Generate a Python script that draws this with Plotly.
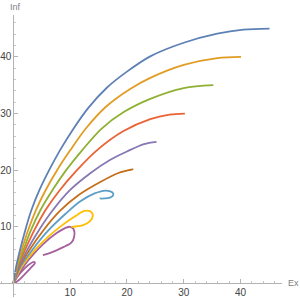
import plotly.graph_objects as go

# Curves (x = Ex, y = Inf)
blue_x = [0, 0.5, 1.2, 2.1, 3.2, 4.6, 6.3, 8.2, 10.5, 13.2, 16.5, 20.0, 24.1, 30.0, 35.9, 40.5, 45.1]
blue_y = [0, 3.0, 6.0, 9.4, 13.0, 16.5, 20.0, 23.5, 27.2, 31.0, 34.6, 37.4, 40.1, 42.5, 44.1, 44.8, 45.0]

orange_x = [0, 0.6, 1.5, 2.6, 4.0, 5.7, 7.7, 10.0, 12.8, 16.3, 20.5, 24.1, 30.0, 35.9, 40.1]
orange_y = [0, 3.0, 6.0, 9.4, 13.0, 16.5, 20.0, 23.5, 27.4, 31.2, 34.3, 36.3, 38.6, 39.8, 40.0]

green_x = [0, 0.7, 1.8, 3.1, 4.8, 6.9, 9.3, 12.1, 15.5, 19.5, 24.1, 30.0, 35.2]
green_y = [0, 3.0, 6.0, 9.4, 13.0, 16.5, 20.0, 23.5, 27.3, 30.3, 32.6, 34.5, 35.0]

red_x = [0, 0.8, 2.1, 3.7, 5.7, 8.2, 11.2, 14.7, 19.4, 24.1, 27.5, 30.2]
red_y = [0, 3.0, 6.0, 9.4, 13.0, 16.5, 20.0, 23.5, 26.9, 29.0, 29.8, 30.0]

purple_x = [0, 1.0, 2.5, 4.5, 7.0, 10.0, 13.6, 17.0, 20.0, 23.0, 25.2]
purple_y = [0, 3.0, 6.0, 9.4, 13.0, 16.5, 19.5, 21.8, 23.3, 24.6, 25.0]

brown_x = [0, 1.1, 2.9, 5.3, 8.2, 11.5, 15.3, 18.5, 21.0, 20.4]
brown_y = [0, 3.0, 6.0, 9.4, 12.8, 15.6, 17.9, 19.5, 20.15, 20.0]

lightblue_x = [0, 1.3, 3.4, 6.2, 9.2, 11.8, 14.3, 16.3, 17.4, 17.6, 17.0, 16.0, 15.2]
lightblue_y = [0, 3.0, 6.0, 9.4, 12.3, 14.5, 15.9, 16.4, 16.1, 15.6, 15.15, 15.0, 15.0]

yellow_x = [0, 1.5, 3.9, 6.2, 8.5, 10.8, 12.5, 13.6, 14.0, 13.5, 12.3, 11.0, 10.2]
yellow_y = [0, 3.0, 6.0, 8.3, 10.2, 11.8, 12.8, 12.7, 12.0, 11.0, 10.3, 10.05, 10.0]

magenta_x = [0, 1.8, 3.4, 5.2, 7.5, 9.2, 10.0, 10.6, 10.7, 10.2, 8.8, 7.5, 6.5, 5.2]
magenta_y = [0, 3.0, 5.0, 6.9, 8.8, 9.8, 10.0, 9.6, 8.2, 7.2, 6.4, 5.8, 5.4, 5.0]

small_x = [0, 1.2, 2.6, 3.6, 3.8, 3.3, 2.2, 1.0, 0]
small_y = [0, 1.8, 3.2, 3.8, 3.6, 3.0, 1.8, 0.6, 0]

series = [
    (small_x, small_y, "#A5609D"),
    (magenta_x, magenta_y, "#A5609D"),
    (yellow_x, yellow_y, "#FFBF00"),
    (lightblue_x, lightblue_y, "#5D9EC7"),
    (brown_x, brown_y, "#C56E1A"),
    (purple_x, purple_y, "#8778B3"),
    (red_x, red_y, "#EB6235"),
    (green_x, green_y, "#8FB032"),
    (orange_x, orange_y, "#E19C24"),
    (blue_x, blue_y, "#5E81B5"),
]

tick_vals = [10, 20, 30, 40]
tick_text = ["10", "20", "30", "40"]

fig = go.Figure()
for xs, ys, c in series:
    fig.add_trace(go.Scatter(x=xs, y=ys, mode="lines",
                             line=dict(color=c, width=1.8, shape="spline", smoothing=0.9),
                             hoverinfo="skip", showlegend=False))

xr = [-2.35, 47.3]
yr = [-2.4, 47.4]
axis_common = dict(showgrid=False, zeroline=False, showline=True, linecolor="#b3b3b3",
                   linewidth=1, ticks="inside", ticklen=4, tickcolor="#b3b3b3",
                   tickvals=tick_vals, ticktext=tick_text, automargin=False,
                   tickfont=dict(family="Liberation Sans", size=10, color="#444444"),
                   minor=dict(ticks="inside", ticklen=2, tickcolor="#c8c8c8", dtick=2, tick0=0),
                   anchor="free", fixedrange=True)

fig.update_layout(
    width=300, height=299,
    margin=dict(l=0, r=18, t=15, b=2, autoexpand=False),
    paper_bgcolor="white", plot_bgcolor="white",
    xaxis=dict(range=xr, position=(0 - yr[0]) / (yr[1] - yr[0]), **axis_common),
    yaxis=dict(range=yr, position=(0 - xr[0]) / (xr[1] - xr[0]), **axis_common),
    annotations=[
        dict(text="Ex", x=1, xref="paper", y=0, yref="y", xanchor="left", yanchor="middle",
             xshift=4, showarrow=False, font=dict(family="Liberation Sans", size=9, color="#808080")),
        dict(text="Inf", x=0, xref="x", y=1, yref="paper", xanchor="center", yanchor="bottom",
             yshift=1, xshift=2, showarrow=False, font=dict(family="Liberation Sans", size=9, color="#808080")),
    ],
)

fig.write_html("out.html", config={"displayModeBar": False},
               post_script="document.body.style.margin='0';document.body.style.overflow='hidden';")
